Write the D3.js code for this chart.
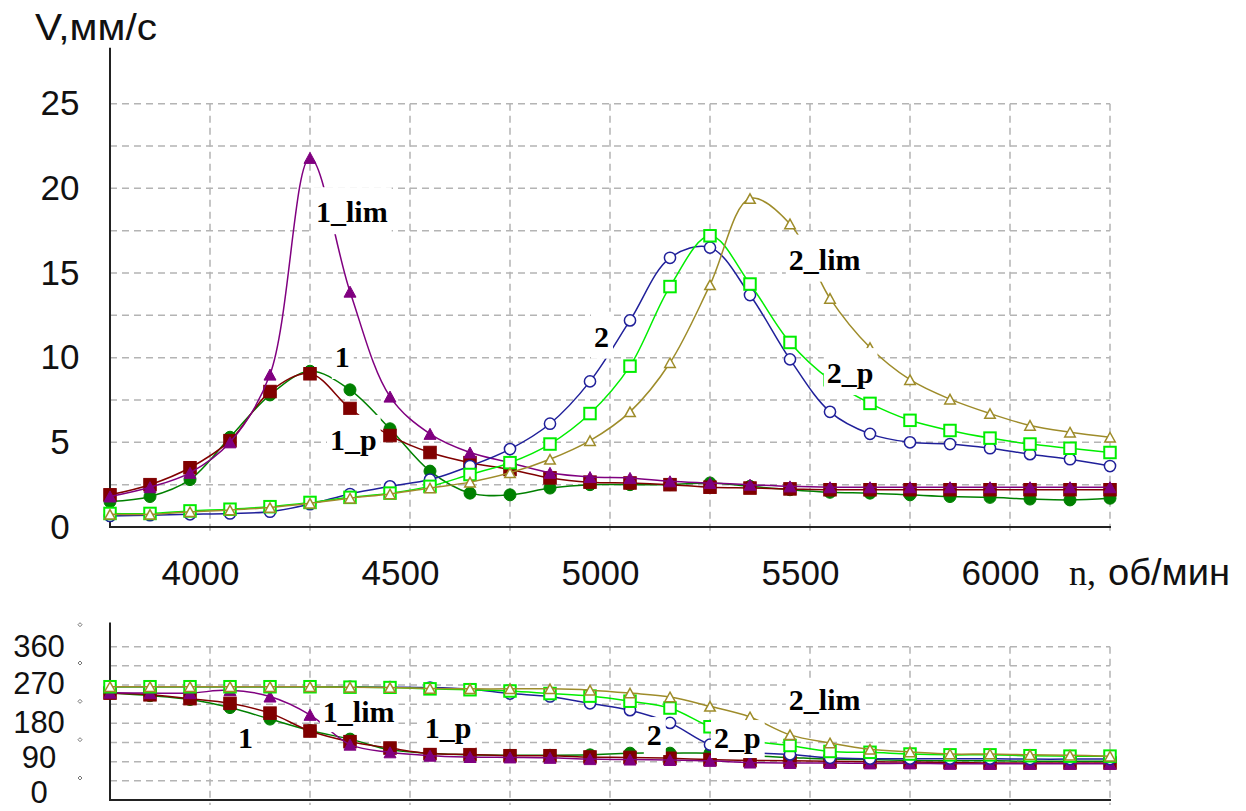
<!DOCTYPE html>
<html>
<head>
<meta charset="utf-8">
<script src="https://cdn.jsdelivr.net/npm/d3@7"></script>
<style>
  body { margin: 0; background: #fff; }
  svg { display: block; }
</style>
</head>
<body>
<svg id="chart" width="1246" height="811"></svg>
<script>
// Shaft speed, rpm (measurement points)
const rpm = [3775, 3875, 3975, 4075, 4175, 4275, 4375, 4475, 4575, 4675, 4775, 4875, 4975,
             5075, 5175, 5275, 5375, 5475, 5575, 5675, 5775, 5875, 5975, 6075, 6175, 6275];

// Vibration velocity amplitude, mm/s
const v1    = [1.5, 1.8, 2.8, 5.3, 7.8, 9.2, 8.1, 5.8, 3.3, 2.0, 1.9, 2.3, 2.5, 2.5, 2.5, 2.6, 2.4, 2.2, 2.05, 2.0, 1.9, 1.8, 1.75, 1.65, 1.6, 1.7];
const v1p   = [1.9, 2.5, 3.5, 5.1, 8.0, 9.05, 7.0, 5.4, 4.4, 3.8, 3.4, 2.9, 2.65, 2.6, 2.5, 2.35, 2.3, 2.25, 2.2, 2.2, 2.2, 2.2, 2.2, 2.2, 2.2, 2.2];
const v1lim = [1.8, 2.35, 3.2, 5.0, 9.0, 21.8, 13.9, 7.7, 5.5, 4.4, 3.8, 3.2, 2.95, 2.9, 2.7, 2.6, 2.5, 2.4, 2.35, 2.35, 2.35, 2.35, 2.35, 2.35, 2.35, 2.35];
const v2    = [0.65, 0.7, 0.75, 0.8, 0.9, 1.35, 1.95, 2.4, 2.8, 3.6, 4.6, 6.1, 8.6, 12.2, 15.9, 16.5, 13.7, 9.9, 6.8, 5.5, 5.0, 4.9, 4.65, 4.3, 4.0, 3.6];
const v2p   = [0.8, 0.8, 0.95, 1.05, 1.2, 1.45, 1.75, 2.0, 2.4, 3.1, 3.8, 4.9, 6.7, 9.5, 14.2, 17.2, 14.35, 10.9, 8.7, 7.3, 6.3, 5.7, 5.25, 4.9, 4.65, 4.4];
const v2lim = [0.75, 0.75, 0.9, 1.0, 1.15, 1.4, 1.7, 1.95, 2.3, 2.65, 3.2, 4.0, 5.1, 6.8, 9.7, 14.3, 19.4, 17.9, 13.5, 10.6, 8.7, 7.55, 6.7, 6.0, 5.6, 5.3];

// Phase, degrees
const p1    = [251, 245, 236, 217, 190, 163, 143, 118, 110, 106, 105, 105, 106, 110, 110, 110, 104, 100, 96, 95, 93, 92, 92, 91, 91, 91];
const p1p   = [251, 247, 238, 227, 204, 162, 137, 122, 109, 107, 104, 104, 101, 100, 98, 95, 93, 92, 91, 90, 89, 88, 87, 87, 87, 87];
const p1lim = [252, 251, 251, 258, 243, 200, 130, 112, 104, 101, 100, 99, 96, 95, 94, 92, 88, 87, 87, 86, 86, 85, 85, 85, 85, 85];
const p2    = [266, 266, 266, 266, 266, 266, 266, 265, 264, 260, 250, 243, 227, 211, 181, 130, 112, 107, 99, 97, 97, 97, 97, 96, 96, 96];
const p2p   = [266, 266, 266, 266, 266, 266, 265, 264, 261, 259, 256, 250, 244, 232, 216, 172, 140, 128, 114, 112, 108, 106, 106, 104, 103, 103];
const p2lim = [266, 266, 266, 266, 266, 266, 265, 264, 262, 261, 261, 261, 258, 251, 242, 220, 195, 153, 134, 119, 113, 108, 108, 106, 105, 103];

// Axis ticks and grid
const rpmTicks   = [4000, 4500, 5000, 5500, 6000];
const rpmGrid    = [4025, 4275, 4525, 4775, 5025, 5275, 5525, 5775, 6025, 6275];
const vTicks     = [0, 5, 10, 15, 20, 25];
const vGrid      = [2.5, 5, 7.5, 10, 12.5, 15, 17.5, 20, 22.5, 25];
const phTicks    = [0, 90, 180, 270, 360];
const phGrid     = [45, 90, 135, 180, 225, 270, 315, 360];

// Curve name labels, in data units (left edge, baseline)
const vLabels  = [
  { text: "1_lim", rpm: 4290, val: 18.0 },
  { text: "1",     rpm: 4337, val: 9.45 },
  { text: "1_p",   rpm: 4325, val: 4.55 },
  { text: "2",     rpm: 4985, val: 10.65 },
  { text: "2_p",   rpm: 5567, val: 8.5 },
  { text: "2_lim", rpm: 5472, val: 15.2 }
];
const phLabels = [
  { text: "1_lim", rpm: 4307, val: 183 },
  { text: "1",     rpm: 4095, val: 122 },
  { text: "1_p",   rpm: 4562, val: 146 },
  { text: "2",     rpm: 5117, val: 129 },
  { text: "2_p",   rpm: 5285, val: 122 },
  { text: "2_lim", rpm: 5472, val: 211 }
];

// Series appearance
const styles = {
  "1":     { color: "#008000", shape: "circle",   filled: true  },
  "1_p":   { color: "#800000", shape: "square",   filled: true  },
  "1_lim": { color: "#800080", shape: "triangle", filled: true  },
  "2":     { color: "#20209a", shape: "circle",   filled: false },
  "2_p":   { color: "#00ee00", shape: "square",   filled: false },
  "2_lim": { color: "#9e8c2a", shape: "triangle", filled: false }
};

const vSeries  = [["1", v1], ["1_p", v1p], ["1_lim", v1lim], ["2", v2], ["2_p", v2p], ["2_lim", v2lim]];
const phSeries = [["1", p1], ["1_p", p1p], ["1_lim", p1lim], ["2", p2], ["2_p", p2p], ["2_lim", p2lim]];

const svg = d3.select("#chart");
const SANS = "'Liberation Sans', Arial, sans-serif";
const SERIF = "'Liberation Serif', 'Times New Roman', serif";

const x = d3.scaleLinear().domain([3775, 6275]).range([110, 1110]);
const yV = d3.scaleLinear().domain([0, 25]).range([527, 103.7]);
const yPh = d3.scaleLinear().domain([0, 360]).range([800, 646.7]);
const vAxisTop = 28.3;
const phAxisTop = 417;

function drawPanel(y, gridVals, topVal, axisTop, series, labels, box) {
  const g = svg.append("g");
  const grid = g.append("g").attr("stroke", "#b4b4b4").attr("stroke-width", 1.5)
    .attr("stroke-dasharray", "7,5").attr("fill", "none");
  grid.selectAll(null).data(gridVals).enter().append("line")
    .attr("x1", x.range()[0]).attr("x2", x.range()[1])
    .attr("y1", d => y(d)).attr("y2", d => y(d));
  grid.selectAll(null).data(rpmGrid).enter().append("line")
    .attr("x1", d => x(d)).attr("x2", d => x(d))
    .attr("y1", y(topVal)).attr("y2", y(0) + 5);

  // axes
  g.append("line").attr("x1", x.range()[0]).attr("x2", x.range()[1] + 1)
    .attr("y1", y(0)).attr("y2", y(0)).attr("stroke", "#222").attr("stroke-width", 2);
  g.append("line").attr("x1", x.range()[0]).attr("x2", x.range()[0])
    .attr("y1", y(0) + 1).attr("y2", y(axisTop)).attr("stroke", "#222").attr("stroke-width", 2);

  const line = d3.line()
    .x((d, i) => x(rpm[i]))
    .y(d => y(d))
    .curve(d3.curveCatmullRom.alpha(0.5));

  series.forEach(([name, vals]) => {
    const st = styles[name];
    const s = g.append("g");
    s.append("path").datum(vals).attr("d", line)
      .attr("fill", "none").attr("stroke", st.color).attr("stroke-width", 1.5);
    const m = s.selectAll(null).data(vals).enter();
    const fill = st.filled ? st.color : "#fff";
    if (st.shape === "circle") {
      m.append("circle")
        .attr("cx", (d, i) => x(rpm[i])).attr("cy", d => y(d))
        .attr("r", st.filled ? 6 : 5.6)
        .attr("fill", fill).attr("stroke", st.color).attr("stroke-width", st.filled ? 1 : 1.5);
    } else if (st.shape === "square") {
      const a = st.filled ? 12.5 : 11.5;
      m.append("rect")
        .attr("x", (d, i) => x(rpm[i]) - a / 2).attr("y", d => y(d) - a / 2)
        .attr("width", a).attr("height", a)
        .attr("fill", fill).attr("stroke", st.color).attr("stroke-width", st.filled ? 1 : 2);
    } else {
      const w = st.filled ? 12 : 10.5, h = st.filled ? 11 : 9.5;
      m.append("path")
        .attr("d", `M0,${-h / 2}L${w / 2},${h / 2}L${-w / 2},${h / 2}Z`)
        .attr("transform", (d, i) => `translate(${x(rpm[i])},${y(d)})`)
        .attr("fill", fill).attr("stroke", st.color).attr("stroke-width", st.filled ? 1 : 1.5)
        .attr("stroke-linejoin", "miter");
    }
  });

  // curve names on an opaque white field
  labels.forEach(l => {
    const lg = g.append("g");
    const r = lg.append("rect").attr("fill", "#fff");
    const t = lg.append("text")
      .attr("x", x(l.rpm)).attr("y", y(l.val))
      .attr("font-family", SERIF).attr("font-weight", "bold").attr("font-size", 30)
      .attr("fill", "#000").text(l.text);
    const bb = t.node().getBBox();
    r.attr("x", bb.x - 3).attr("width", bb.width + 7)
      .attr("y", y(l.val) - box[0]).attr("height", box[0] + box[1]);
  });
  return g;
}

drawPanel(yV, vGrid, 25, vAxisTop, vSeries, vLabels, [35, 12]);
drawPanel(yPh, phGrid, 360, phAxisTop, phSeries, phLabels, [28, 10]);

// tick labels
const axV = svg.append("g").attr("transform", `translate(${x.range()[0]},0)`)
  .call(d3.axisLeft(yV).tickValues(vTicks).tickSize(0).tickFormat(d3.format("d")));
axV.select(".domain").remove();
axV.selectAll("text").attr("x", -50).attr("text-anchor", "middle")
  .attr("font-family", SANS).attr("font-size", 35).attr("fill", "#111");

// phase labels sit tightly stacked; the lower ones are nudged up so they stay apart and inside the frame
const phNudge = { 0: -7, 90: -4.5, 180: -1, 270: -1, 360: 0 };
const axPh = svg.append("g").attr("transform", `translate(${x.range()[0]},0)`)
  .call(d3.axisLeft(yPh).tickValues(phTicks).tickSize(0).tickFormat(d3.format("d")));
axPh.select(".domain").remove();
axPh.selectAll("text").attr("x", -71).attr("y", d => phNudge[d])
  .attr("text-anchor", "middle")
  .attr("font-family", SANS).attr("font-size", 31).attr("fill", "#111");

// small marks beside the phase tick labels
svg.append("g").selectAll(null).data(phTicks).enter().append("path")
  .attr("d", "M0,-2L2,0L0,2L-2,0Z")
  .attr("transform", d => `translate(80,${yPh(d) - 22})`)
  .attr("fill", "none").attr("stroke", "#777").attr("stroke-width", 1);

const axX = svg.append("g").attr("transform", `translate(0,${yV(0)})`)
  .call(d3.axisBottom(x).tickValues(rpmTicks).tickSize(0).tickFormat(d3.format("d")));
axX.select(".domain").remove();
axX.selectAll("text").attr("y", 58).attr("dy", null)
  .attr("font-family", SANS).attr("font-size", 35).attr("fill", "#111");

// axis titles
svg.append("text").attr("x", 35).attr("y", 40)
  .attr("font-family", SANS).attr("font-size", 36).attr("fill", "#111")
  .attr("textLength", 122).attr("lengthAdjust", "spacingAndGlyphs")
  .text("V,мм/с");
svg.append("text").attr("x", 1069).attr("y", 585)
  .attr("font-family", SERIF).attr("font-size", 36).attr("fill", "#111")
  .text("n,");
svg.append("text").attr("x", 1108).attr("y", 585)
  .attr("font-family", SANS).attr("font-size", 36).attr("fill", "#111")
  .attr("textLength", 122).attr("lengthAdjust", "spacingAndGlyphs")
  .text("об/мин");
</script>
</body>
</html>
